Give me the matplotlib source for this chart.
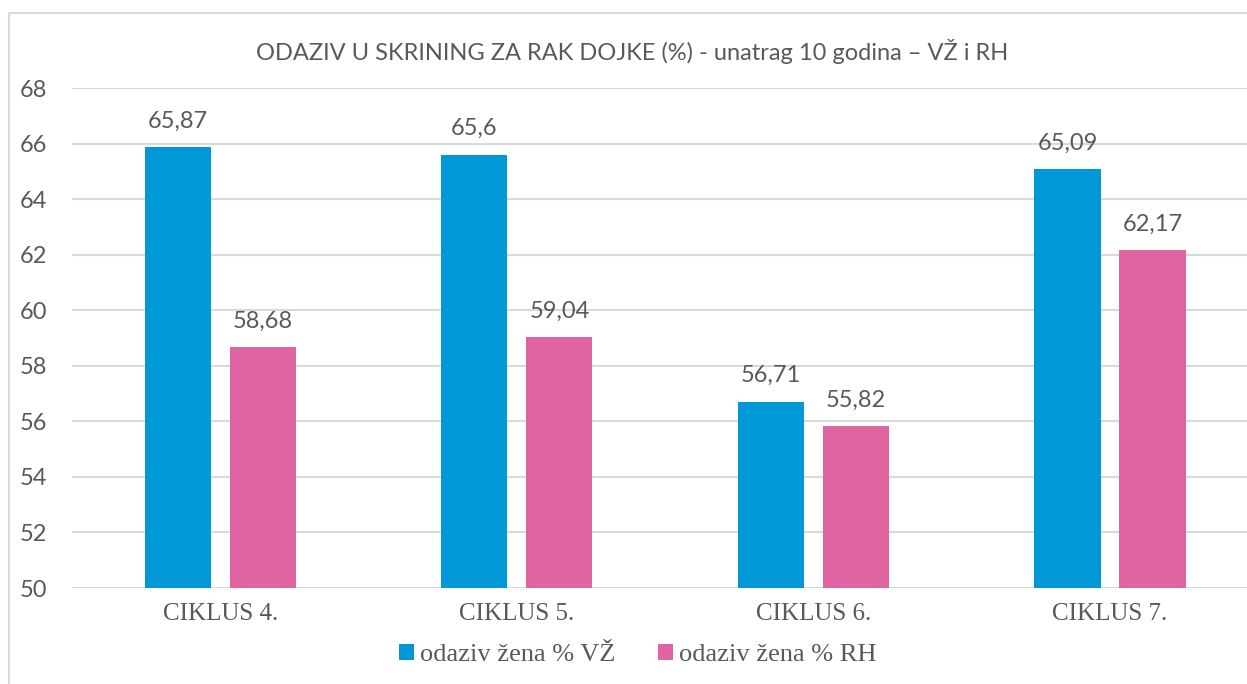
import numpy as np
import matplotlib
matplotlib.use("Agg")
import matplotlib.pyplot as plt
from matplotlib.patches import Rectangle

# ── DATA ──────────────────────────────────────────────────────────────────────
categories = ["CIKLUS 4.", "CIKLUS 5.", "CIKLUS 6.", "CIKLUS 7."]
vz_values = [65.87, 65.6, 56.71, 65.09]
rh_values = [58.68, 59.04, 55.82, 62.17]
series_names = ["odaziv žena % VŽ", "odaziv žena % RH"]
y_ticks = [50, 52, 54, 56, 58, 60, 62, 64, 66, 68]
title = "ODAZIV U SKRINING ZA RAK DOJKE (%) - unatrag 10 godina – VŽ i RH"

# ── STYLE ─────────────────────────────────────────────────────────────────────
BLUE = "#0098D6"
PINK = "#E064A2"
GRID = "#D9D9D9"
TEXT = "#595959"
SANS = ["Lato", "DejaVu Sans"]
SERIF = ["Liberation Serif", "DejaVu Serif"]

W, H = 1247, 684
fig = plt.figure(figsize=(W / 100, H / 100), dpi=100)
fig.patch.set_facecolor("white")

# chart frame (runs off the right and bottom edge, as in the source)
fig.add_artist(Rectangle((9 / W, -0.2), 1.2, (H - 13) / H + 0.2,
                         transform=fig.transFigure, fill=False,
                         edgecolor=GRID, linewidth=1.5))

ax = fig.add_axes([72 / W, 96 / H, (W - 72) / W, 500 / H])
x = np.arange(len(categories))
bw = 0.223
off = 0.1433

b1 = ax.bar(x - off, vz_values, bw, color=BLUE, zorder=3)
b2 = ax.bar(x + off, rh_values, bw, color=PINK, zorder=3)

for bars, vals in [(b1, vz_values), (b2, rh_values)]:
    for rect, v in zip(bars, vals):
        ax.annotate(f"{v:g}".replace(".", ","),
                    (rect.get_x() + rect.get_width() / 2, v),
                    xytext=(0, 14), textcoords="offset points",
                    ha="center", va="baseline", fontsize=17,
                    color=TEXT, family=SANS)

ax.set_ylim(50, 68)
ax.set_xlim(-0.5, 3.462)
ax.set_yticks(y_ticks)
ax.set_yticklabels([str(t) for t in y_ticks], family=SANS, fontsize=17, color=TEXT)
ax.set_xticks(x)
ax.set_xticklabels(categories, family=SERIF, fontsize=18, color=TEXT)
ax.tick_params(axis="both", length=0)
ax.tick_params(axis="y", pad=18)
ax.tick_params(axis="x", pad=11)
ax.yaxis.grid(True, color=GRID, linewidth=1.5, zorder=0)
for s in ax.spines.values():
    s.set_visible(False)

fig.text(632 / W, 1 - 52 / H, title, ha="center", va="center",
         fontsize=17, color=TEXT, family=SANS)

leg = fig.legend([b1, b2], series_names, loc="center",
                 bbox_to_anchor=(638 / W, 1 - 655 / H), ncol=2, frameon=False,
                 prop={"family": SERIF, "size": 19},
                 handlelength=0.55, handleheight=0.55, handletextpad=0.25,
                 columnspacing=1.6)
for t in leg.get_texts():
    t.set_color(TEXT)

fig.savefig("out.png", dpi=100)
